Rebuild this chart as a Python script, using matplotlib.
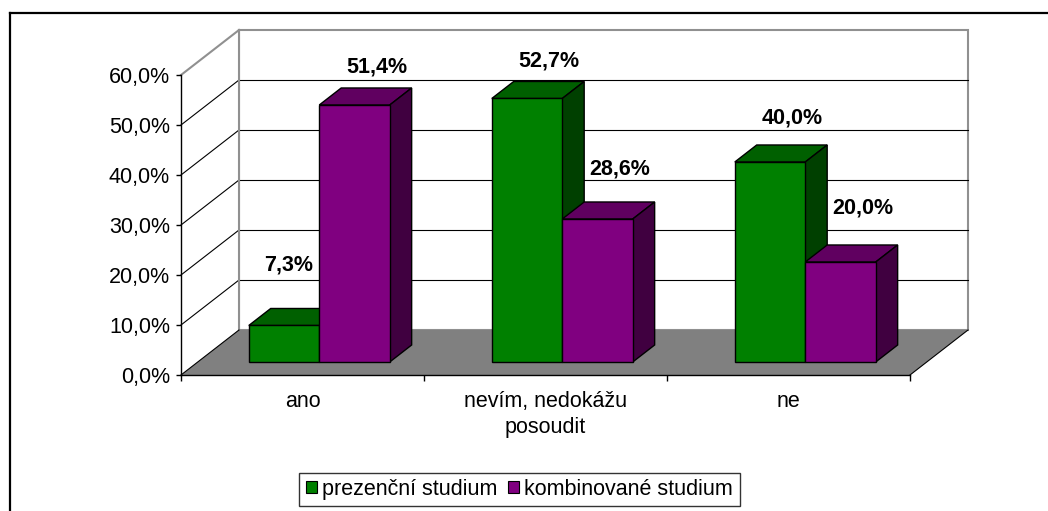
import matplotlib
matplotlib.use("Agg")
import matplotlib.pyplot as plt
from matplotlib.patches import Polygon, Patch
from matplotlib.lines import Line2D

plt.rcParams['font.family'] = ['Liberation Sans', 'DejaVu Sans']

# data
categories = ["ano", "nevím, nedokážu\nposoudit", "ne"]
series_names = ["prezenční studium", "kombinované studium"]
prezencni = [7.3, 52.7, 40.0]
kombinovane = [51.4, 28.6, 20.0]
y_ticks = [0, 10, 20, 30, 40, 50, 60]

# colours (front, top, side)
green = ("#008000", "#006000", "#004000")
purple = ("#800080", "#600060", "#400040")

W, H = 1048, 511
fig = plt.figure(figsize=(W / 100, H / 100), dpi=100)
ax = fig.add_axes([181 / W, (H - 375) / H, 729 / W, 300 / H])
ax.set_xlim(0, 3)
ax.set_ylim(0, 60)
ax.patch.set_visible(False)

# 3d depth of the plot floor, in data units
DX = 58 / 243
DY = 9.0
d0, d1 = 0.289, 0.667   # bar depth range (fraction of floor depth)
BW = 0.29               # bar width in category units
FS = 15.5


def p(x, y, d):
    return (x + d * DX, y + d * DY)


# walls
ax.add_patch(Polygon([p(0, 0, 1), p(3, 0, 1), p(3, 60, 1), p(0, 60, 1)],
                     closed=True, fc="white", ec="#909090", lw=1.5, clip_on=False, zorder=0))
ax.add_patch(Polygon([p(0, 0, 0), p(0, 0, 1), p(0, 60, 1), p(0, 60, 0)],
                     closed=True, fc="white", ec="none", clip_on=False, zorder=0))
for v in y_ticks[1:]:
    col = "#909090" if v == y_ticks[-1] else "black"
    lw = 1.5 if v == y_ticks[-1] else 0.8
    ax.add_line(Line2D([p(0, v, 0)[0], p(0, v, 1)[0]], [p(0, v, 0)[1], p(0, v, 1)[1]],
                       color=col, lw=lw, clip_on=False, zorder=1))
    if v != y_ticks[-1]:
        ax.add_line(Line2D([p(0, v, 1)[0], p(3, v, 1)[0]], [p(0, v, 1)[1], p(3, v, 1)[1]],
                           color="black", lw=0.8, clip_on=False, zorder=1))
ax.add_line(Line2D([DX, DX], [DY, 60 + DY], color="#909090", lw=1.5, clip_on=False, zorder=1))

# floor
ax.add_patch(Polygon([p(0, 0, 0), p(3, 0, 0), p(3, 0, 1), p(0, 0, 1)],
                     closed=True, fc="#808080", ec="none", clip_on=False, zorder=2))
ax.add_line(Line2D([0, DX], [0, DY], color="black", lw=0.8, clip_on=False, zorder=2))
ax.add_line(Line2D([3, 3 + DX], [0, DY], color="black", lw=0.8, clip_on=False, zorder=2))


def bar3d(xl, h, cols, z):
    xr = xl + BW
    front = [p(xl, 0, d0), p(xr, 0, d0), p(xr, h, d0), p(xl, h, d0)]
    top = [p(xl, h, d0), p(xr, h, d0), p(xr, h, d1), p(xl, h, d1)]
    side = [p(xr, 0, d0), p(xr, 0, d1), p(xr, h, d1), p(xr, h, d0)]
    for pts, c in zip([top, side, front], [cols[1], cols[2], cols[0]]):
        ax.add_patch(Polygon(pts, closed=True, fc=c, ec="black", lw=1.0,
                             joinstyle="miter", clip_on=False, zorder=z))


def fmt(v):
    return f"{v:.1f}%".replace(".", ",")


z = 3
for i in range(len(categories)):
    g_left = i + 0.5 - BW
    k_left = i + 0.5
    bar3d(g_left, prezencni[i], green, z)
    bar3d(k_left, kombinovane[i], purple, z + 1)
    z += 2
    for left, v, other in [(g_left, prezencni[i], kombinovane[i]), (k_left, kombinovane[i], None)]:
        ly = 0.9 * v + 15.4
        lx = left + BW / 2 + d1 * DX
        if other is not None and other > ly:
            # label would run into the taller neighbour bar, push it left
            ax.text(p(k_left, 0, d0)[0] - 0.025, ly, fmt(v), ha="right", va="center",
                    fontsize=FS, fontweight="bold", zorder=20)
        else:
            ax.text(lx, ly, fmt(v), ha="center", va="center",
                    fontsize=FS, fontweight="bold", zorder=20)

# axes
for s in ["top", "right"]:
    ax.spines[s].set_visible(False)
for s in ["left", "bottom"]:
    ax.spines[s].set_linewidth(1.0)
    ax.spines[s].set_zorder(5)
ax.set_yticks(y_ticks)
ax.set_yticklabels([fmt(v) for v in y_ticks])
ax.tick_params(axis="y", direction="out", length=3.6, width=1.0, pad=4.3, labelsize=FS)
ax.set_xticks(range(len(categories) + 1))
ax.set_xticklabels([])
ax.set_xticks([i + 0.5 for i in range(len(categories))], minor=True)
ax.set_xticklabels(categories, minor=True, fontsize=FS, linespacing=1.3)
ax.tick_params(axis="x", which="major", direction="out", length=4.3, width=1.0)
ax.tick_params(axis="x", which="minor", length=0, pad=11.5)

# legend
handles = [Patch(fc=green[0], ec="black", lw=0.8), Patch(fc=purple[0], ec="black", lw=0.8)]
leg = fig.legend(handles, series_names, loc="center", bbox_to_anchor=(519.5 / W, 1 - 489.5 / H),
                 ncol=2, fontsize=FS, frameon=True, fancybox=False, edgecolor="black",
                 handlelength=0.5, handleheight=0.5, handletextpad=0.25, columnspacing=0.5,
                 borderpad=0.3, borderaxespad=0)
leg.get_frame().set_linewidth(1.0)

# chart border (only top and left visible in the image)
fig.add_artist(Line2D([10 / W, 10 / W], [0, 1 - 13 / H], color="black", lw=1.6))
fig.add_artist(Line2D([10 / W, 1], [1 - 13 / H, 1 - 13 / H], color="black", lw=1.6))

fig.savefig("out.png", dpi=100)
